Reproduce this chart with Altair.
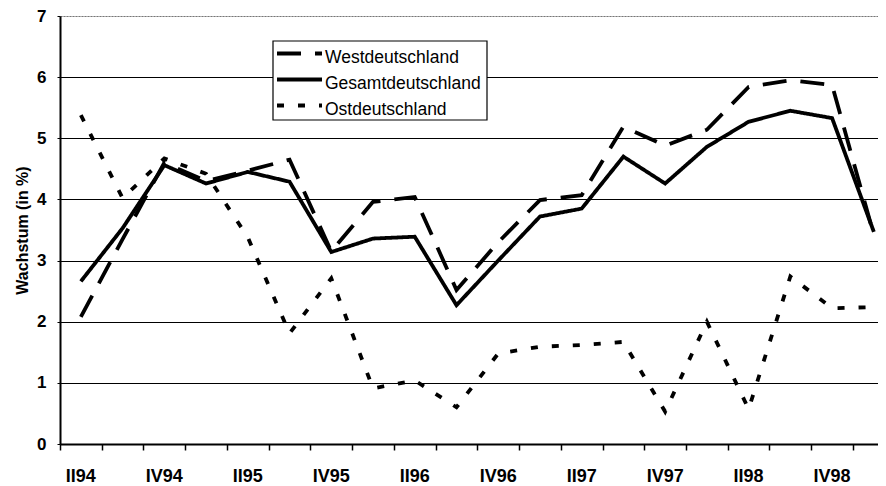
import altair as alt
import pandas as pd

quarters = ["II94", "III94", "IV94", "I95", "II95", "III95", "IV95", "I96", "II96", "III96",
            "IV96", "I97", "II97", "III97", "IV97", "I98", "II98", "III98", "IV98", "I99"]
west = [2.08, 3.35, 4.60, 4.30, 4.47, 4.65, 3.15, 3.96, 4.04, 2.52,
        3.30, 3.99, 4.07, 5.19, 4.88, 5.14, 5.84, 5.95, 5.87, 3.42]
gesamt = [2.66, 3.53, 4.56, 4.26, 4.45, 4.29, 3.14, 3.36, 3.39, 2.27,
          3.00, 3.72, 3.85, 4.70, 4.26, 4.86, 5.27, 5.45, 5.33, 3.47]
ost = [5.38, 4.02, 4.67, 4.42, 3.38, 1.81, 2.71, 0.91, 1.04, 0.60,
       1.48, 1.59, 1.62, 1.67, 0.53, 2.00, 0.57, 2.74, 2.22, 2.24]
series_names = ["Westdeutschland", "Gesamtdeutschland", "Ostdeutschland"]
tick_labels = ["II94", "IV94", "II95", "IV95", "II96", "IV96", "II97", "IV97", "II98", "IV98"]

rows = []
for name, vals in zip(series_names, [west, gesamt, ost]):
    for i, (q, v) in enumerate(zip(quarters, vals)):
        rows.append({"series": name, "pos": i + 0.5, "quarter": q, "value": v})
df = pd.DataFrame(rows)

lab_df = pd.DataFrame({"label": tick_labels, "pos": [2 * k + 0.5 for k in range(len(tick_labels))]})

W, H = 818, 428
FONT = "Liberation Sans"
dashes = [[24, 14], [1, 0], [7, 14]]
dash_scale = alt.Scale(domain=series_names, range=dashes)

x_enc = alt.X("pos:Q", scale=alt.Scale(domain=[0, 19.6], nice=False, zero=False),
              axis=alt.Axis(values=list(range(20)), labels=False, grid=False, tickSize=6,
                            tickColor="black", tickWidth=1.5, domainColor="black",
                            domainWidth=2, title=None))
y_enc = alt.Y("value:Q", scale=alt.Scale(domain=[0, 7], nice=False),
              axis=alt.Axis(values=list(range(8)), title="Wachstum (in %)",
                            labelFont=FONT, labelFontWeight="bold", labelFontSize=17,
                            labelColor="black", tickSize=3, tickColor="black",
                            labelPadding=11, domainColor="black", domainWidth=2,
                            gridColor={"condition": {"test": "datum.value === 7", "value": "#777777"}, "value": "black"},
                            gridDash={"condition": {"test": "datum.value === 7", "value": [2, 1]}, "value": []},
                            gridWidth=1,
                            titleFont=FONT, titleFontSize=16, titleFontWeight="bold",
                            titleColor="black", titleAngle=270, titleX=-38, titleY=214,
                            titleAlign="center", titleBaseline="middle"))

lines = alt.Chart(df).mark_line(strokeWidth=3.8, color="black", strokeCap="butt").encode(
    x=x_enc, y=y_enc,
    strokeDash=alt.StrokeDash("series:N", scale=dash_scale, legend=None),
    detail="series:N",
)

xlabels = alt.Chart(lab_df).mark_text(font=FONT, fontWeight="bold", fontSize=18,
                                      color="black", baseline="middle").encode(
    x=alt.X("pos:Q"), y=alt.value(461), text="label:N")

box = alt.Chart(pd.DataFrame({"a": [0]})).mark_rect(fill="white", stroke="black", strokeWidth=1.2).encode(
    x=alt.value(213), x2=alt.value(427), y=alt.value(25), y2=alt.value(104))

legend_layers = []
for i, name in enumerate(series_names):
    sub = pd.DataFrame({"series": [name]})
    legend_layers.append(
        alt.Chart(sub).mark_rule(strokeWidth=3.8, color="black", strokeCap="butt",
                                 strokeDash=dashes[i]).encode(
            x=alt.value(217), x2=alt.value(262), y=alt.value(37.5 + 26 * i)))
    legend_layers.append(
        alt.Chart(sub).mark_text(font=FONT, fontSize=17.5, color="black", align="left",
                                 baseline="middle").encode(
            x=alt.value(265), y=alt.value(41.5 + 26 * i), text="series:N"))

chart = alt.layer(lines, xlabels, box, *legend_layers).properties(
    width=W, height=H,
    autosize=alt.AutoSizeParams(type="none"),
    padding={"left": 52, "top": 8, "right": 0, "bottom": 50},
).configure_view(stroke=None).configure(background="white")

chart.save("out.html", embed_options={"renderer": "svg", "actions": False})
